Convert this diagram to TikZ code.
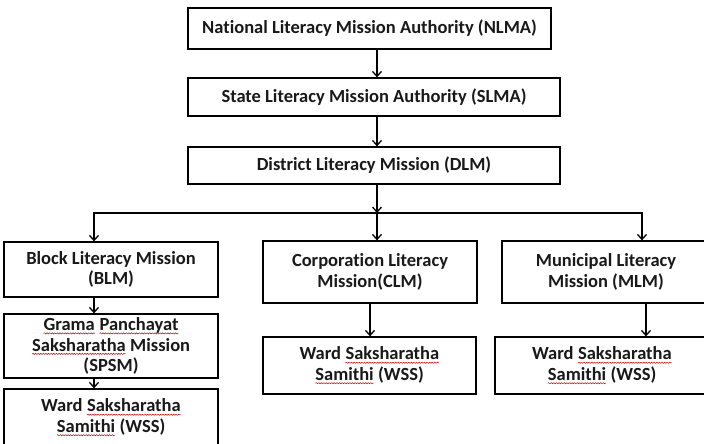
\documentclass[tikz,border=0pt]{standalone}
\usepackage{fontspec}
\setmainfont{Carlito}[Ligatures=NoCommon]
\usetikzlibrary{arrows.meta,decorations.pathmorphing}
\newcommand{\sqw}[1]{\tikz[baseline=(sqwn.base)]{\node[inner sep=0pt,outer sep=0pt,anchor=base,draw=none,fill=none,minimum width=0pt,minimum height=0pt](sqwn){#1};\draw[red!85!black,line width=0.5pt,decorate,decoration={snake,amplitude=0.6pt,segment length=2.6pt}]([yshift=-2.8pt]sqwn.base west)--([yshift=-2.8pt]sqwn.base east);}}
\tikzset{
  box/.style={draw=black,line width=1.3pt,fill=white,inner sep=0pt,align=center,font=\fontsize{18.5}{20.5}\selectfont\bfseries,text=black!90},
  link/.style={draw=black,line width=1.3pt,line join=miter},
  conn/.style={link,-{Straight Barb[length=5pt,width=9pt,line width=1.3pt]}}
}
\begin{document}
\begin{tikzpicture}[x=1pt,y=1pt]
\fill[white] (0,0) rectangle (704,-444);
\clip (0,0) rectangle (704,-444);
\useasboundingbox (0,0) rectangle (704,-444);
% nodes
\node[box,minimum width=363pt,minimum height=41pt] (nlma) at (369.5,-28.5) {National Literacy Mission Authority (NLMA)};
\node[box,minimum width=372pt,minimum height=38pt] (slma) at (374,-97) {State Literacy Mission Authority (SLMA)};
\node[box,minimum width=372pt,minimum height=37pt] (dlm) at (374,-165.5) {District Literacy Mission (DLM)};
\node[box,minimum width=214pt,minimum height=55pt] (blm) at (111,-269.5) {Block Literacy Mission\\(BLM)};
\node[box,minimum width=214pt,minimum height=64pt] (spsm) at (111,-346) {\sqw{Grama} \sqw{Panchayat}\\\sqw{Saksharatha} Mission\\(SPSM)};
\node[box,minimum width=214pt,minimum height=57pt] (wss1) at (111,-417.5) {Ward \sqw{Saksharatha}\\\sqw{Samithi} (WSS)};
\node[box,minimum width=214pt,minimum height=62pt] (clm) at (370,-272) {Corporation Literacy\\Mission(CLM)};
\node[box,minimum width=213pt,minimum height=57pt] (wss2) at (369.5,-365.5) {Ward \sqw{Saksharatha}\\\sqw{Samithi} (WSS)};
\node[box,minimum width=208pt,minimum height=62pt] (mlm) at (606,-272) {Municipal Literacy\\Mission (MLM)};
\node[box,minimum width=214pt,minimum height=57pt] (wss3) at (602,-365.5) {Ward \sqw{Saksharatha}\\\sqw{Samithi} (WSS)};
% junctions
\coordinate (jc) at (377,-213);
\coordinate (jl) at (94,-213);
\coordinate (jr) at (642,-213);
\coordinate (mr) at (646,-320);
% connectors
\draw[conn] (nlma.south -| jc) -- (slma.north -| jc);
\draw[conn] (slma.south -| jc) -- (dlm.north -| jc);
\draw[conn] (dlm.south -| jc) -- (jc);
\draw[conn] (jr) -- (jl) -- (blm.north -| jl);
\draw[conn] (jl) -- (jr) -- (mlm.north -| jr);
\draw[conn] (jc) -- (clm.north -| jc);
\draw[conn] (blm.south -| jl) -- (spsm.north -| jl);
\draw[conn] (spsm.south -| jl) -- (wss1.north -| jl);
\draw[conn] (clm.south) -- (clm.south |- wss2.north);
\draw[conn] (mlm.south -| mr) -- (wss3.north -| mr);
\end{tikzpicture}
\end{document}
